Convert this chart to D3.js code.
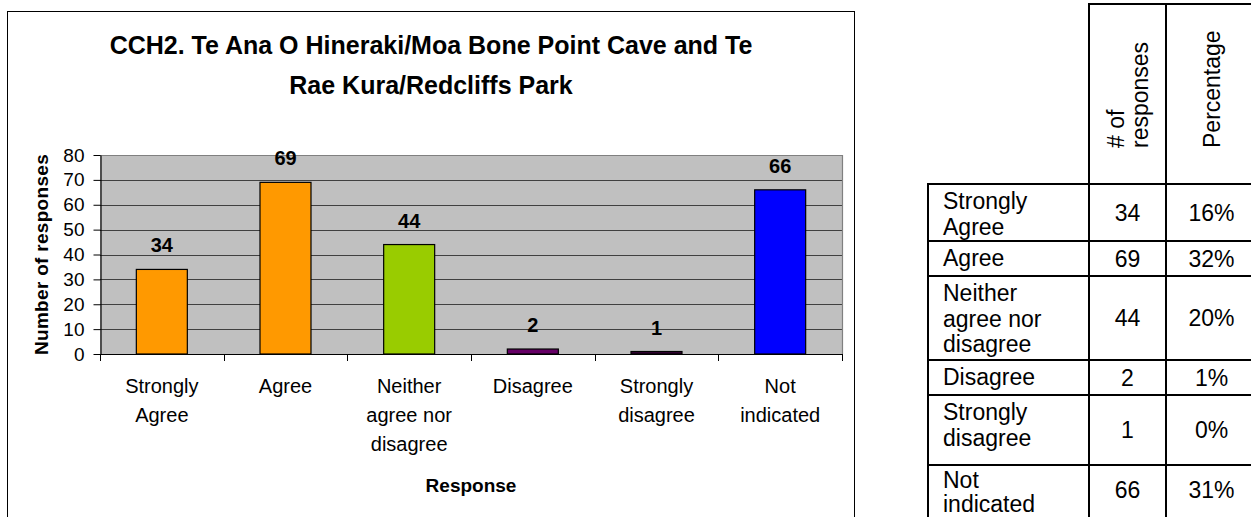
<!DOCTYPE html>
<html><head><meta charset="utf-8">
<script src="https://cdn.jsdelivr.net/npm/d3@7"></script>
<style>html,body{margin:0;padding:0;background:#fff;} svg{display:block;font-family:"Liberation Sans",Arial,Helvetica,sans-serif;}</style>
</head><body><svg id="c" width="1251" height="517"></svg>
<script>
// ---- data ----
const titleLines = ["CCH2. Te Ana O Hineraki/Moa Bone Point Cave and Te", "Rae Kura/Redcliffs Park"];
const categories = ["Strongly Agree", "Agree", "Neither agree nor disagree", "Disagree", "Strongly disagree", "Not indicated"];
const categoryLines = [["Strongly", "Agree"], ["Agree"], ["Neither", "agree nor", "disagree"], ["Disagree"], ["Strongly", "disagree"], ["Not", "indicated"]];
const responses = [34, 69, 44, 2, 1, 66];
const percentages = ["16%", "32%", "20%", "1%", "0%", "31%"];
const barColors = ["#FF9900", "#FF9900", "#99CC00", "#660066", "#330033", "#0000FF"];
const yTicks = [0, 10, 20, 30, 40, 50, 60, 70, 80];
const yTitle = "Number of responses";
const xTitle = "Response";
const tableHeaders = [["# of", "responses"], ["Percentage"]];

// ---- layout ----
const svg = d3.select("#c");
const P = {left: 100, right: 842, top: 155, bottom: 354};

// chart frame
svg.append("rect").attr("x", 7.5).attr("y", 11.5).attr("width", 847).attr("height", 530)
  .attr("fill", "#fff").attr("stroke", "#000").attr("stroke-width", 1);

// title
svg.append("g").selectAll("text").data(titleLines).join("text")
  .attr("x", 431).attr("y", (d, i) => 54 + i * 40)
  .attr("text-anchor", "middle").attr("font-size", 25).attr("font-weight", "bold").attr("fill", "#000")
  .text(d => d);

const x = d3.scaleBand().domain(categories).range([P.left, P.right]).padding(0);
const y = d3.scaleLinear().domain([0, 80]).range([P.bottom, P.top]);

// plot background
svg.append("rect").attr("x", P.left).attr("y", y(80)).attr("width", P.right - P.left).attr("height", y(0) - y(80))
  .attr("fill", "#C0C0C0");

// gridlines
svg.append("g").selectAll("line").data(yTicks.filter(t => t > 0 && t < 80)).join("line")
  .attr("x1", P.left).attr("x2", P.right).attr("y1", d => Math.round(y(d)) + 0.5).attr("y2", d => Math.round(y(d)) + 0.5)
  .attr("stroke", "#404040").attr("stroke-width", 1);

// plot border top/right grey
svg.append("path").attr("d", `M${P.left},${Math.round(y(80)) + 0.5}H${P.right + 0.5}V${P.bottom}`)
  .attr("fill", "none").attr("stroke", "#808080").attr("stroke-width", 1.2);

// bars
const bw = 51;
svg.append("g").selectAll("rect").data(categories).join("rect")
  .attr("x", (d) => x(d) + x.bandwidth() / 2 - bw / 2)
  .attr("y", (d, i) => y(responses[i]))
  .attr("width", bw)
  .attr("height", (d, i) => y(0) - y(responses[i]))
  .attr("fill", (d, i) => barColors[i])
  .attr("stroke", "#000").attr("stroke-width", 1.2);

// data labels
svg.append("g").selectAll("text").data(categories).join("text")
  .attr("x", d => x(d) + x.bandwidth() / 2)
  .attr("y", (d, i) => y(responses[i]) - 17)
  .attr("text-anchor", "middle").attr("font-size", 20).attr("font-weight", "bold")
  .text((d, i) => responses[i]);

// y axis
const yAxis = svg.append("g").attr("transform", `translate(${P.left + 0.5},0)`)
  .call(d3.axisLeft(y).tickValues(yTicks).tickSize(7).tickPadding(9).tickSizeOuter(0));
yAxis.select(".domain").attr("stroke", "#000").attr("stroke-width", 1.2);
yAxis.selectAll(".tick line").attr("stroke", "#000");
yAxis.selectAll(".tick text").attr("font-size", 19).attr("font-family", "Liberation Sans, Arial, sans-serif").attr("fill", "#000");

// x axis line and ticks
svg.append("line").attr("x1", P.left).attr("x2", P.right + 1).attr("y1", P.bottom + 0.5).attr("y2", P.bottom + 0.5)
  .attr("stroke", "#000").attr("stroke-width", 1.2);
const bounds = categories.map(c => x(c)).concat([x.range()[1]]);
svg.append("g").selectAll("line").data(bounds).join("line")
  .attr("x1", d => Math.round(d) + 0.5).attr("x2", d => Math.round(d) + 0.5)
  .attr("y1", P.bottom).attr("y2", P.bottom + 7)
  .attr("stroke", "#000").attr("stroke-width", 1);

// x labels
const xl = svg.append("g").selectAll("text").data(categories).join("text")
  .attr("text-anchor", "middle").attr("font-size", 20).attr("fill", "#000");
xl.each(function (d, i) {
  const t = d3.select(this);
  categoryLines[i].forEach((ln, j) => {
    t.append("tspan").attr("x", x(d) + x.bandwidth() / 2).attr("y", 393 + j * 29).text(ln);
  });
});

// axis titles
svg.append("text").attr("x", (P.left + P.right) / 2).attr("y", 492)
  .attr("text-anchor", "middle").attr("font-size", 19).attr("font-weight", "bold").text(xTitle);
svg.append("text").attr("transform", `translate(48,${(y(0) + y(80)) / 2}) rotate(-90)`)
  .attr("text-anchor", "middle").attr("font-size", 19).attr("font-weight", "bold").attr("letter-spacing", 0.3).text(yTitle);

// ---- table ----
const T = {c0: 928, c1: 1089, c2: 1166, c3: 1257, headTop: 4, bodyTop: 184};
const rowHeights = [57, 35, 84, 35, 70, 60];
const rowTops = [];
let acc = T.bodyTop;
rowHeights.forEach(h => { rowTops.push(acc); acc += h; });
const tableBottom = acc;
const tg = svg.append("g");
const lw = 2;
// header box
tg.append("line").attr("x1", T.c1 - 1).attr("x2", T.c3 + 1).attr("y1", T.headTop).attr("y2", T.headTop).attr("stroke", "#000").attr("stroke-width", lw);
[T.c1, T.c2, T.c3].forEach(cx => {
  tg.append("line").attr("x1", cx).attr("x2", cx).attr("y1", T.headTop - 1).attr("y2", tableBottom).attr("stroke", "#000").attr("stroke-width", lw);
});
tg.append("line").attr("x1", T.c0).attr("x2", T.c0).attr("y1", T.bodyTop - 1).attr("y2", tableBottom).attr("stroke", "#000").attr("stroke-width", lw);
rowTops.concat([tableBottom]).forEach(ry => {
  tg.append("line").attr("x1", T.c0 - 1).attr("x2", T.c3 + 1).attr("y1", ry).attr("y2", ry).attr("stroke", "#000").attr("stroke-width", lw);
});
// header text (rotated)
const headBase = [[1124, 1148], [1220]];
tableHeaders.forEach((lines, k) => {
  lines.forEach((ln, j) => {
    tg.append("text").attr("transform", `translate(${headBase[k][j]},148) rotate(-90)`)
      .attr("font-size", 23).attr("text-anchor", "start").text(ln);
  });
});
// body text
categories.forEach((c, i) => {
  const t = tg.append("text").attr("font-size", 23);
  const first = i === 5 ? rowTops[i] + 23 : rowTops[i] + 25;
  const step = i === 5 ? 24 : 25.5;
  categoryLines[i].forEach((ln, j) => {
    t.append("tspan").attr("x", 943).attr("y", first + j * step).text(ln);
  });
  const cy = i === 5 ? rowTops[i] + 33 : rowTops[i] + rowHeights[i] / 2 + 8;
  tg.append("text").attr("x", (T.c1 + T.c2) / 2).attr("y", cy).attr("text-anchor", "middle").attr("font-size", 23).text(responses[i]);
  tg.append("text").attr("x", (T.c2 + T.c3) / 2).attr("y", cy).attr("text-anchor", "middle").attr("font-size", 23).text(percentages[i]);
});
</script></body></html>
